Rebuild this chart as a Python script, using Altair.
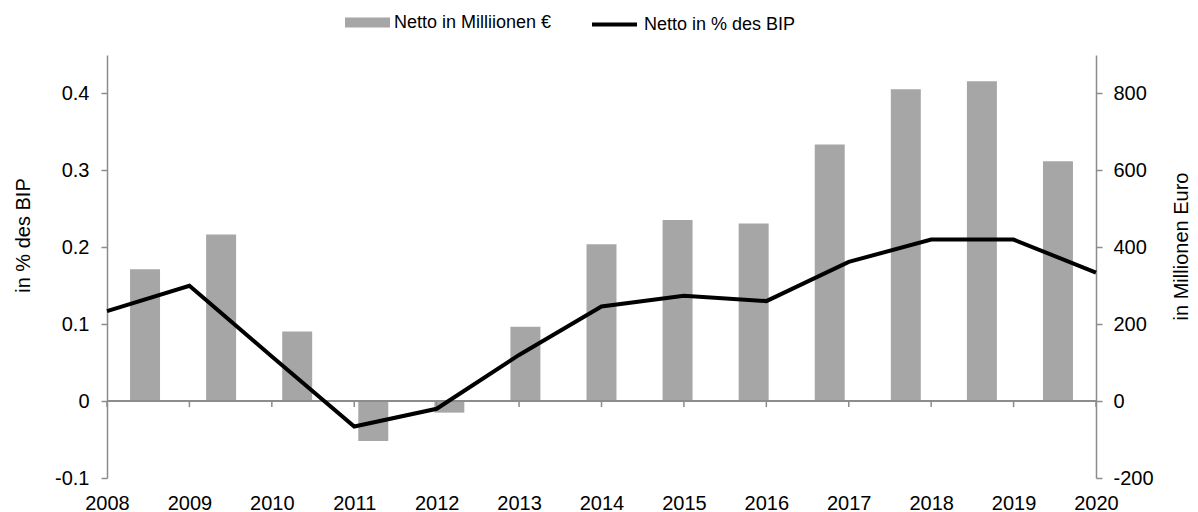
import altair as alt
import pandas as pd

# ---- data ----
years = [2008, 2009, 2010, 2011, 2012, 2013, 2014, 2015, 2016, 2017, 2018, 2019, 2020]
netto_mio = [343, 433, 181, -104, -30, 193, 408, 471, 462, 667, 811, 832, 624]
netto_pct = [0.117, 0.150, 0.058, -0.033, -0.010, 0.060, 0.123, 0.137, 0.130, 0.181, 0.210, 0.210, 0.167]
left_ticks = [-0.1, 0, 0.1, 0.2, 0.3, 0.4]
right_ticks = [-200, 0, 200, 400, 600, 800]
bar_name = "Netto in Milliionen €"
line_name = "Netto in % des BIP"

df = pd.DataFrame({"year": years, "mio": netto_mio, "pct": netto_pct})
df["year_str"] = df["year"].astype(str)
df["bar_series"] = bar_name
df["line_series"] = line_name

FONT = "Liberation Sans"
AX = "#8c8c8c"
BAR = "#a6a6a6"


def x_lin():
    return alt.Scale(domain=[2008, 2020], nice=False, zero=False)


def y_left():
    return alt.Scale(domain=[-0.1, 0.45], nice=False, zero=False)


y_right = alt.Scale(domain=[-200, 900], nice=False, zero=False)

bars = alt.Chart(df).mark_bar().encode(
    x=alt.X("year_str:O", scale=alt.Scale(paddingInner=0.606, paddingOuter=0.303), axis=None),
    y=alt.Y("mio:Q", scale=y_right,
            axis=alt.Axis(orient="right", values=right_ticks, labelExpr="'' + datum.value",
                          labelPadding=11,
                          title="in Millionen Euro", titleAngle=270, titleX=85, titleY=191,
                          titleAlign="center", titleBaseline="middle", titleFontSize=20,
                          titleFontWeight="normal", titleFont=FONT, titleColor="black")),
    color=alt.Color("bar_series:N", scale=alt.Scale(range=[BAR]),
                    legend=alt.Legend(title=None, orient="none", legendX=238, legendY=-55,
                                      symbolType="M-1,-0.222H1V0.222H-1Z", symbolSize=2025,
                                      symbolStrokeWidth=0, labelFontSize=18, labelFont=FONT,
                                      labelColor="black", labelOffset=4, padding=0)),
)

zero_line = alt.Chart(df).mark_rule(color=AX, strokeWidth=1.5).encode(
    y=alt.Y(datum=0, scale=y_left(), axis=None),
)

tick_marks = alt.Chart(df).mark_rule(color=AX, strokeWidth=1.5, y2Offset=6).encode(
    x=alt.X("year:Q", scale=x_lin(), axis=None),
    y=alt.Y(datum=0, scale=y_left(), axis=None),
    y2=alt.Y2(datum=0),
)

line = alt.Chart(df).mark_line(strokeWidth=4).encode(
    x=alt.X("year:Q", scale=x_lin(),
            axis=alt.Axis(orient="bottom", values=years, format="d", title=None,
                          domain=False, ticks=False, labelPadding=15, grid=False,
                          labelFlush=False, labelOverlap=False, labelBound=False)),
    y=alt.Y("pct:Q", scale=y_left(),
            axis=alt.Axis(orient="left", values=left_ticks, labelExpr="'' + datum.value",
                          labelPadding=12,
                          title="in % des BIP", titleAngle=270, titleX=-84, titleY=180,
                          titleAlign="center", titleBaseline="middle", titleFontSize=20,
                          titleFontWeight="normal", titleFont=FONT, titleColor="black")),
    stroke=alt.Stroke("line_series:N", scale=alt.Scale(range=["black"]),
                      legend=alt.Legend(title=None, orient="none", legendX=483, legendY=-55,
                                        symbolType="stroke", symbolSize=2025,
                                        symbolStrokeWidth=4, labelFontSize=18, labelFont=FONT,
                                        labelColor="black", labelOffset=5, padding=0)),
)

chart = alt.layer(bars, zero_line, tick_marks, line).resolve_scale(
    x="independent", y="independent"
).properties(
    width=989, height=423,
    autosize=alt.AutoSizeParams(type="none"),
    padding={"left": 99, "top": 47, "right": 94, "bottom": 34},
    background="white",
).configure_view(stroke=None).configure_axis(
    domainColor=AX, domainWidth=1.5, tickColor=AX, tickWidth=1.5, tickSize=6,
    labelFontSize=20, labelFont=FONT, labelColor="black", labelPadding=5, grid=False,
)

chart.save("out.html", embed_options={"renderer": "svg", "actions": False})
